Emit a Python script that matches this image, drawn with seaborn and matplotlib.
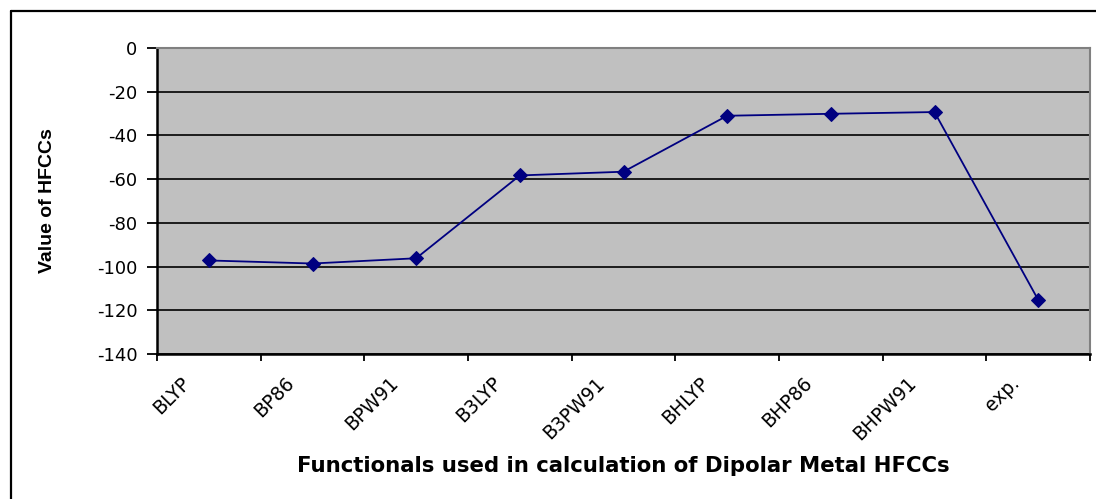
import matplotlib
matplotlib.use("Agg")
import matplotlib.pyplot as plt
import matplotlib.lines as mlines
import matplotlib.transforms as mtrans
import numpy as np
import pandas as pd
import seaborn as sns

categories = ["BLYP", "BP86", "BPW91", "B3LYP", "B3PW91", "BHLYP", "BHP86", "BHPW91", "exp."]
values = [-97.2, -98.6, -96.2, -58.3, -56.6, -31.0, -30.1, -29.3, -115.2]
y_ticks = [0, -20, -40, -60, -80, -100, -120, -140]

sns.set_theme(style="white")
plt.rcParams["font.family"] = ["DejaVu Sans"]
plt.rcParams["text.color"] = "black"
plt.rcParams["axes.labelcolor"] = "black"
plt.rcParams["xtick.color"] = "black"
plt.rcParams["ytick.color"] = "black"

df = pd.DataFrame({"Functional": categories, "HFCC": values})

fig = plt.figure(figsize=(10.96, 4.99), dpi=100)
W, H = 1096, 499
ax = fig.add_axes([157 / W, 1 - 354 / H, (1090 - 157) / W, (354 - 48) / H])
ax.set_facecolor("#C0C0C0")

sns.lineplot(data=df, x="Functional", y="HFCC", ax=ax, color="#000080",
             marker="D", markersize=7, markeredgecolor="#000080",
             linewidth=1.3, sort=False, zorder=3)

ax.set_xlim(-0.5, len(categories) - 0.5)
ax.set_ylim(-140, 0)
ax.set_yticks(y_ticks)
ax.set_yticklabels([str(t) for t in y_ticks], fontsize=13)
ax.yaxis.grid(True, color="black", linewidth=1.2)
ax.xaxis.grid(False)
ax.set_axisbelow(True)

# category boundary ticks, labels at centres
ax.set_xticks(np.arange(-0.5, len(categories), 1.0))
ax.set_xticklabels([""] * (len(categories) + 1))
ax.set_xticks(np.arange(len(categories)), minor=True)
ax.set_xticklabels(categories, minor=True, rotation=45, ha="right", va="top",
                   rotation_mode="anchor", fontsize=13.5)
ax.tick_params(axis="x", which="major", direction="out", length=5, width=1.3, color="black", bottom=True)
ax.tick_params(axis="x", which="minor", length=0, pad=14)
ax.tick_params(axis="y", direction="out", length=7, width=1.3, color="black", left=True, pad=7)
offset = mtrans.ScaledTranslation(-28 / 100, 0, fig.dpi_scale_trans)
for lab in ax.get_xticklabels(minor=True):
    lab.set_transform(lab.get_transform() + offset)

for side in ["left", "bottom"]:
    ax.spines[side].set_color("black")
    ax.spines[side].set_linewidth(1.8)
for side in ["top", "right"]:
    ax.spines[side].set_color("#808080")
    ax.spines[side].set_linewidth(1.5)

ax.set_ylabel("Value of HFCCs", fontsize=14, fontweight="bold", family="Liberation Sans")
ax.yaxis.set_label_coords((56 - 157) / (1090 - 157), 0.5)
ax.set_xlabel("Functionals used in calculation of Dipolar Metal HFCCs", fontsize=15.3, fontweight="bold")
ax.xaxis.set_label_coords(0.5, (354 - 466) / (354 - 48))
ax.xaxis.label.set_va("center")

# outer frame (only left and top edges fall inside the picture)
x0 = 11 / W
top = 1 - 11 / H
fig.add_artist(mlines.Line2D([x0, x0], [-0.05, top], transform=fig.transFigure,
                             color="black", linewidth=1.6))
fig.add_artist(mlines.Line2D([x0, 1.05], [top, top], transform=fig.transFigure,
                             color="black", linewidth=1.6))

fig.savefig("out.png", dpi=100)
